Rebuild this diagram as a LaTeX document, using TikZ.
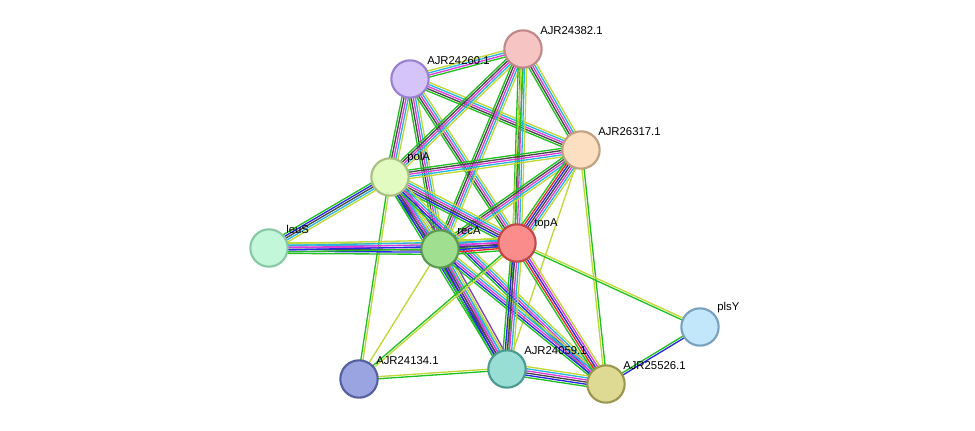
\documentclass[tikz,border=0pt]{standalone}
\usepackage{fontspec}
\setmainfont{Liberation Sans}
\usetikzlibrary{calc,backgrounds}
\definecolor{eg}{HTML}{22C022}
\definecolor{er}{HTML}{F02828}
\definecolor{eb}{HTML}{2828E8}
\definecolor{ek}{HTML}{484848}
\definecolor{em}{HTML}{DC3CDC}
\definecolor{ec}{HTML}{28B4E0}
\definecolor{ey}{HTML}{C0D838}
\definecolor{ep}{HTML}{8040C0}
\definecolor{f24382}{HTML}{F7C4C4}\definecolor{d24382}{HTML}{C08888}
\definecolor{f24260}{HTML}{D5C4F9}\definecolor{d24260}{HTML}{9A80D0}
\definecolor{f26317}{HTML}{FCDEC0}\definecolor{d26317}{HTML}{C0A080}
\definecolor{fpolA}{HTML}{E2FBC0}\definecolor{dpolA}{HTML}{A8C080}
\definecolor{fleuS}{HTML}{C2F7DA}\definecolor{dleuS}{HTML}{88C8A6}
\definecolor{frecA}{HTML}{A0DE90}\definecolor{drecA}{HTML}{5A9A50}
\definecolor{ftopA}{HTML}{FB8C8C}\definecolor{dtopA}{HTML}{C04848}
\definecolor{fplsY}{HTML}{C2E7FA}\definecolor{dplsY}{HTML}{7AA0C0}
\definecolor{f24134}{HTML}{9AA4E0}\definecolor{d24134}{HTML}{5560A0}
\definecolor{f24059}{HTML}{98DED4}\definecolor{d24059}{HTML}{4A9A90}
\definecolor{f25526}{HTML}{DEDA94}\definecolor{d25526}{HTML}{9A9650}

\tikzset{
  prot/.style={circle, minimum size=28pt, inner sep=0pt, line width=1.6pt},
  plabel/.style={anchor=south west, inner sep=0pt, font=\fontsize{8.5}{10}\selectfont},
  eline/.style={line width=1pt}
}
% \prot{name}{x}{y}{colour key}{text}
\newcommand{\prot}[5]{%
  \node[prot, fill=f#4, draw=d#4] (#1) at (#2,#3) {};
  \node[plabel] (#1-lbl) at ([shift={(17,-14)}]#1.center) {#5};}
% \edge{a}{b}{colours}
\newcommand{\edge}[3]{%
  \foreach \c [count=\i] in {#3} {\xdef\nlines{\i}}
  \foreach \c [count=\i] in {#3} {
    \pgfmathsetmacro{\off}{(\i-(\nlines+1)/2)*1.6}
    \draw[eline, color=e\c] ($(#1)!\off pt!90:(#2)$) -- ($(#2)!\off pt!-90:(#1)$);
  }}

\begin{document}
\begin{tikzpicture}[x=0.75pt, y=-0.75pt]
  \useasboundingbox (0,0) rectangle (975,431);

  \prot{p24382}{523}{49}{24382}{AJR24382.1}
  \prot{p24260}{410}{79}{24260}{AJR24260.1}
  \prot{p26317}{581}{150}{26317}{AJR26317.1}
  \prot{polA}{390}{177}{polA}{polA}
  \prot{leuS}{269}{248}{leuS}{leuS}
  \prot{recA}{440}{249}{recA}{recA}
  \prot{topA}{517}{243}{topA}{topA}
  \prot{plsY}{700}{327}{plsY}{plsY}
  \prot{p24134}{359}{379}{24134}{AJR24134.1}
  \prot{p24059}{507}{369}{24059}{AJR24059.1}
  \prot{p25526}{606}{384}{25526}{AJR25526.1}

  \begin{pgfonlayer}{background}
    \edge{p24260}{p24382}{g,m,c,y}
    \edge{p24260}{p26317}{g,k,m,c,y}
    \edge{p24260}{polA}{g,k,m,c,y}
    \edge{p24260}{recA}{g,k,m,c,y}
    \edge{p24260}{topA}{g,k,m,c,y}
    \edge{p24382}{p26317}{g,k,m,c,y}
    \edge{p24382}{polA}{g,k,m,c,y}
    \edge{p24382}{recA}{g,k,m,c,y}
    \edge{p24382}{topA}{g,k,m,c,y}
    \edge{p24382}{p24059}{y,g}
    \edge{p26317}{polA}{g,k,m,c,y}
    \edge{p26317}{recA}{g,k,m,c,y}
    \edge{p26317}{topA}{g,r,b,k,m,c,y}
    \edge{p26317}{p24059}{y}
    \edge{p26317}{p25526}{y,g}
    \edge{polA}{leuS}{g,b,k,c,y}
    \edge{polA}{recA}{g,b,k,m,c,y,p}
    \edge{polA}{topA}{g,b,k,m,c,y}
    \edge{polA}{p24134}{g,y}
    \edge{polA}{p24059}{g,b,k,m,c,y}
    \edge{polA}{p25526}{g,b,m,c,y}
    \edge{leuS}{recA}{g,b,k,m,c,y}
    \edge{leuS}{topA}{g,b,m,c,y}
    \edge{recA}{topA}{g,r,b,k,m,c,y}
    \edge{recA}{p24134}{y}
    \edge{recA}{p24059}{g,b,k,m,c,y,p}
    \edge{recA}{p25526}{g,b,m,c,y}
    \edge{topA}{p24059}{g,b,k,m,c,y}
    \edge{topA}{p25526}{g,r,b,m,y}
    \edge{topA}{p24134}{g,y}
    \edge{topA}{plsY}{g,y}
    \edge{plsY}{p25526}{g,b}
    \edge{p24134}{p24059}{g,y}
    \edge{p24059}{p25526}{g,b,k,m,c,y}
  \end{pgfonlayer}
\end{tikzpicture}
\end{document}
